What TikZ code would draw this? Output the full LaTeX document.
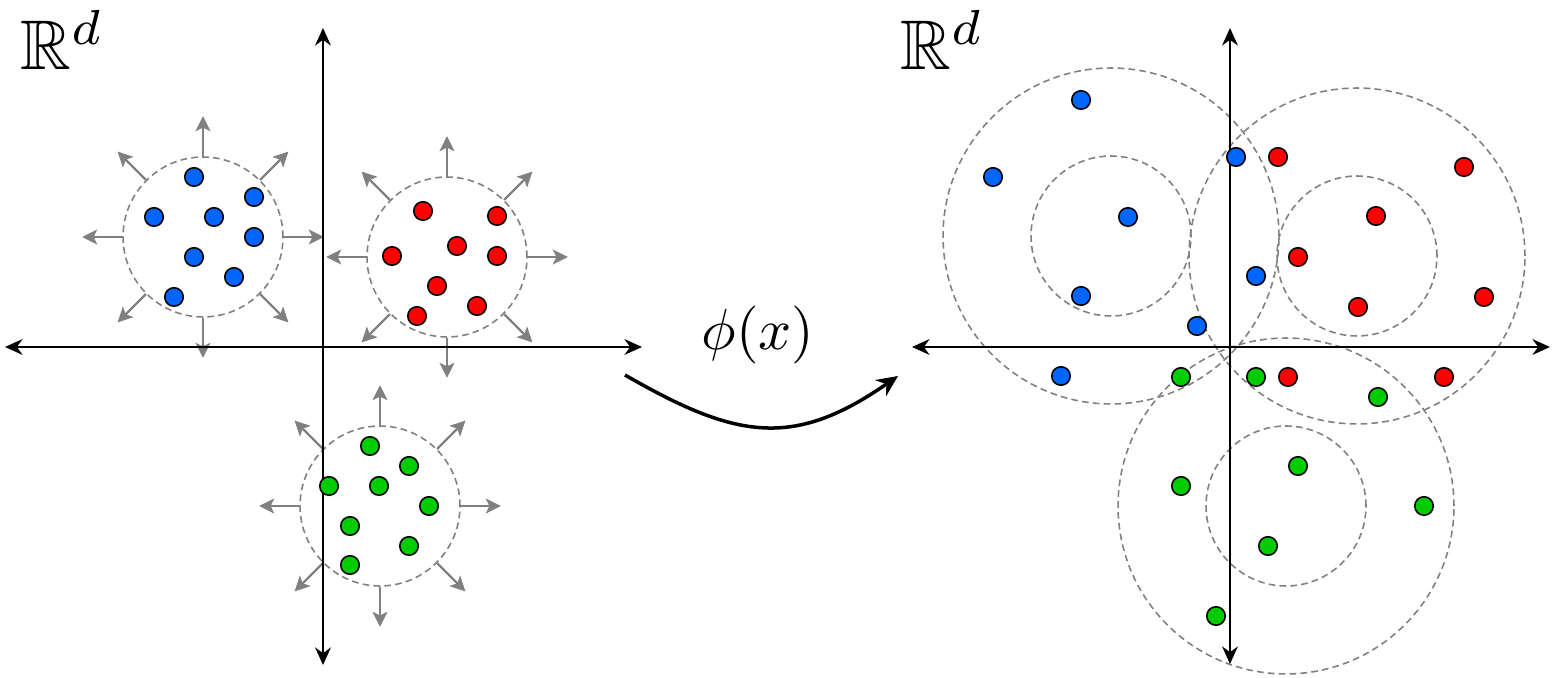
\documentclass[tikz,border=0pt]{standalone}
\usepackage{amsmath,amssymb}
\usetikzlibrary{arrows.meta}

\definecolor{ptblue}{RGB}{0,102,255}
\definecolor{ptred}{RGB}{255,0,0}
\definecolor{ptgreen}{RGB}{0,204,0}

\tikzset{
  pt/.style={circle,draw=black,line width=0.9pt,inner sep=0pt,minimum size=0.37cm},
  ring/.style={circle,draw=gray,line width=0.9pt,dash pattern=on 3.8pt off 2.4pt,inner sep=0pt},
  axis/.style={line width=1pt,{Stealth[length=10pt,width=9pt]}-{Stealth[length=10pt,width=9pt]}},
  push/.style={gray,line width=1.3pt,-{Stealth[length=8.5pt,width=8.5pt,inset=2pt]}},
}

\begin{document}
\begin{tikzpicture}[x=0.02cm,y=0.02cm]
\useasboundingbox (0,0) rectangle (1559,-678);

% --- left: tight clusters in R^d ---
\node[anchor=base west,inner sep=0pt] (lspace) at (20,-70) {\scalebox{4}{$\mathbb{R}^d$}};
\node[ring,minimum size=3.2cm] (lblue) at (203,-237) {};
\node[ring,minimum size=3.2cm] (lred) at (447,-257) {};
\node[ring,minimum size=3.2cm] (lgreen) at (380,-506) {};
\foreach \c in {lblue,lred,lgreen}
  \foreach \a in {0,45,...,315}
    \draw[push] (\c.\a) -- ++(\a:40);

\coordinate (lw) at (5,-347);    \coordinate (le) at (642,-347);
\coordinate (ln) at (323,-28);   \coordinate (ls) at (323,-665);
\draw[axis] (lw) -- (le);
\draw[axis] (ln) -- (ls);

\foreach \x/\y [count=\i] in {194/177,254/197,154/217,214/217,254/237,194/257,234/277,174/297}
  \node[pt,fill=ptblue] (lb\i) at (\x,-\y) {};
\foreach \x/\y [count=\i] in {423/211,497/216,457/246,392/256,497/256,437/286,477/306,417/316}
  \node[pt,fill=ptred] (lr\i) at (\x,-\y) {};
\foreach \x/\y [count=\i] in {370/446,409/466,329/486,379/486,429/506,350/526,409/546,350/565}
  \node[pt,fill=ptgreen] (lg\i) at (\x,-\y) {};

% --- the map ---
\node[anchor=base,inner sep=0pt] (map) at (758,-350) {\scalebox{3.3}{$\phi(x)$}};
\coordinate (ms) at (625,-375);
\coordinate (me) at (898,-376);
\draw[line width=2pt,-{Stealth[length=12pt,width=11pt]}] (ms) .. controls (736,-439) and (793,-449) .. (me);

% --- right: spread clusters after phi ---
\node[anchor=base west,inner sep=0pt] (rspace) at (900,-70) {\scalebox{4}{$\mathbb{R}^d$}};
\foreach \n/\x/\y in {rblue/1111/236,rred/1357/256,rgreen/1286/506} {
  \node[ring,minimum size=3.2cm] (\n in) at (\x,-\y) {};
  \node[ring,minimum size=6.72cm] (\n out) at (\x,-\y) {};
}

\coordinate (rw) at (912,-347);  \coordinate (re) at (1550,-347);
\coordinate (rn) at (1230,-28);  \coordinate (rs) at (1230,-664);
\draw[axis] (rw) -- (re);
\draw[axis] (rn) -- (rs);

\foreach \x/\y [count=\i] in {1081/100,993/177,1128/217,1081/296,1236/157,1256/276,1197/326,1061/376}
  \node[pt,fill=ptblue] (rb\i) at (\x,-\y) {};
\foreach \x/\y [count=\i] in {1278/157,1464/167,1376/216,1298/257,1358/307,1484/297,1288/377,1444/377}
  \node[pt,fill=ptred] (rr\i) at (\x,-\y) {};
\foreach \x/\y [count=\i] in {1181/377,1256/377,1378/397,1298/466,1181/486,1424/506,1268/546,1216/616}
  \node[pt,fill=ptgreen] (rg\i) at (\x,-\y) {};
\end{tikzpicture}
\end{document}
